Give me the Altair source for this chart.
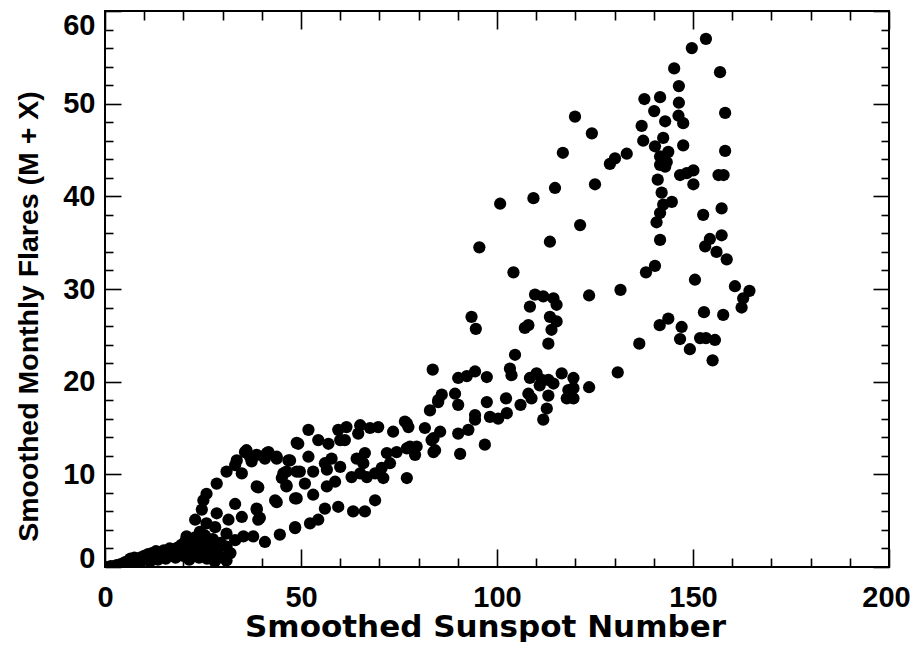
import altair as alt
import pandas as pd

sunspot = [
    0.5, 1.5, 2.5, 3.0, 3.5, 4.0, 4.5, 5.0, 5.5, 6.0, 6.5, 7.0, 7.5, 8.0, 8.5, 9.0, 9.5, 10.0,
    10.5, 11.0, 11.5, 12.0, 12.5, 13.0, 13.5, 14.0, 14.5, 15.0, 15.5, 16.0, 16.5, 17.0, 17.5,
    18.0, 18.5, 19.0, 19.5, 20.0, 20.5, 21.0, 21.5, 22.0, 22.5, 23.0, 23.5, 24.0, 24.5, 25.0,
    25.5, 26.0, 26.5, 27.0, 27.5, 28.0, 28.5, 29.0, 29.5, 30.0, 31.0, 32.0, 31.0, 33.2, 35.3,
    37.8, 40.8, 20.8, 24.2, 31.0, 28.1, 25.9, 23.0, 31.5, 34.9, 28.5, 24.7, 33.2, 25.1, 25.9,
    28.5, 31.0, 34.9, 33.6, 33.2, 35.7, 36.1, 37.4, 38.7, 40.8, 41.7, 43.8, 46.8, 46.3, 45.1,
    46.3, 48.9, 48.9, 37.0, 41.3, 43.8, 39.1, 38.7, 38.7, 39.5, 43.4, 43.8, 48.5, 48.9, 38.7,
    39.1, 44.6, 48.5, 48.5, 52.3, 54.4, 56.1, 59.5, 63.3, 66.3, 68.9, 77.0, 49.3, 51.9, 54.4,
    57.0, 51.9, 53.1, 49.7, 47.2, 45.5, 46.3, 51.0, 53.1, 57.8, 56.1, 56.6, 58.7, 56.6, 60.0,
    59.5, 60.0, 61.2, 61.6, 64.6, 65.1, 67.6, 69.7, 66.3, 64.2, 65.9, 62.9, 65.1, 66.8, 68.9,
    70.6, 71.0, 72.7, 71.9, 74.4, 73.5, 76.5, 77.4, 77.0, 77.0, 77.8, 79.1, 79.5, 81.6, 83.3,
    84.2, 83.8, 83.8, 85.5, 82.9, 85.0, 85.9, 83.6, 85.0, 89.3, 90.1, 90.1, 92.3, 94.4, 97.4,
    97.4, 102.3, 94.4, 94.4, 98.2, 100.3, 102.5, 106.0, 108.0, 108.8, 108.4, 110.1, 111.4,
    110.9, 113.1, 114.4, 116.5, 119.5, 119.5, 118.2, 123.5, 117.8, 119.5, 113.1, 112.7, 111.8,
    90.1, 92.7, 90.6, 96.9, 103.3, 103.7, 104.6, 93.5, 94.6, 108.0, 107.1, 113.1, 113.9, 115.2,
    113.5, 108.4, 109.7, 111.8, 114.4, 115.2, 123.5, 104.2, 95.5, 113.5, 121.2, 100.8, 109.3,
    114.8, 125.0, 116.8, 119.9, 124.2, 128.8, 130.1, 133.1, 131.5, 130.8, 136.3, 136.9, 137.3,
    137.6, 140.1, 141.6, 142.9, 142.4, 140.3, 143.7, 141.6, 143.3, 141.6, 142.9, 141.0, 142.0,
    144.6, 142.4, 141.6, 140.7, 141.6, 140.3, 138.0, 145.2, 146.4, 146.4, 146.3, 147.5, 147.5,
    146.7, 148.4, 150.1, 150.1, 149.7, 153.3, 156.9, 158.2, 158.2, 156.5, 157.8, 157.3, 152.6,
    157.3, 154.3, 153.1, 156.0, 158.6, 150.5, 160.7, 164.4, 162.8, 162.4, 152.8, 157.7, 143.7,
    141.5, 147.1, 146.7, 149.2, 151.8, 153.3, 155.6, 155.0,
]
flares = [
    0.0, 0.1, 0.1, 0.2, 0.0, 0.3, 0.2, 0.5, 0.3, 0.7, 0.9, 0.6, 1.0, 0.8, 0.4, 1.0, 0.7, 1.2,
    0.9, 1.4, 0.6, 1.5, 1.1, 1.7, 0.8, 1.6, 1.2, 1.8, 0.9, 1.5, 2.0, 1.3, 1.9,
    1.0, 2.1, 1.6, 2.4, 1.2, 2.8, 1.9, 0.8, 2.5, 1.5, 3.2, 2.0, 1.0, 2.6, 1.6,
    3.4, 0.9, 2.2, 1.3, 3.0, 0.6, 1.8, 1.2, 2.6, 1.0, 0.7, 1.5, 2.2, 2.9, 3.3,
    3.3, 2.7, 3.3, 3.8, 3.6, 4.3, 4.7, 5.1, 5.1, 5.4, 5.8, 6.2, 6.8, 7.2, 7.9,
    9.0, 10.3, 10.1, 11.5, 11.0, 12.4, 12.6, 11.4, 12.1, 11.7, 12.4, 11.9, 11.5, 10.3, 9.6,
    8.7, 10.3, 13.4, 11.9, 12.3, 11.7, 8.6, 8.7, 6.3, 5.3, 7.2, 7.0, 7.4, 7.4, 6.2,
    5.1, 3.5, 4.2, 4.3, 4.7, 5.1, 6.3, 6.5, 6.0, 6.0, 7.2, 9.6, 13.3, 14.8, 13.7,
    13.3, 11.9, 10.3, 10.3, 11.5, 10.1, 8.8, 9.0, 7.8, 11.7, 11.2, 10.5, 9.2, 8.7, 10.8,
    14.8, 13.7, 13.7, 15.1, 14.4, 15.3, 15.0, 15.1, 12.3, 11.7, 11.2, 9.7, 10.1, 9.7, 10.1,
    10.7, 9.6, 11.2, 12.3, 12.4, 14.6, 15.7, 15.1, 15.5, 12.8, 13.0, 12.1, 13.0, 15.0, 13.7,
    12.6, 13.9, 12.4, 14.6, 16.9, 18.0, 18.6, 21.3, 17.8, 18.7, 17.5, 20.4, 20.6, 21.1, 20.5,
    17.8, 18.2, 16.4, 15.9, 16.2, 16.0, 16.6, 17.5, 18.7, 18.2, 20.4, 20.9, 20.2,
    19.6, 20.2, 19.8, 20.9, 20.4, 19.3, 19.1, 19.4, 18.2, 18.2, 18.5, 17.1, 15.9,
    14.4, 14.8, 12.2, 13.2, 21.4, 20.7, 22.9, 27.0, 25.7, 26.1, 25.8, 24.1, 25.6, 26.5,
    27.0, 28.1, 29.4, 29.2, 29.0, 28.3, 29.3, 31.8, 34.5, 35.1, 36.9, 39.2, 39.8,
    40.9, 41.3, 44.7, 48.6, 46.8, 43.5, 44.1, 44.6, 29.9, 21.0, 24.1, 47.6, 46.0,
    50.5, 49.2, 50.7, 48.1, 46.3, 45.4, 44.8, 44.3, 43.7, 43.4, 43.2, 41.8, 40.4,
    39.4, 39.1, 38.2, 37.2, 35.3, 32.5, 31.8, 53.8, 51.9, 50.1, 48.7, 47.9, 45.5,
    42.3, 42.5, 42.8, 41.3, 56.0, 57.0, 53.4, 49.0, 44.9, 42.3, 42.3, 38.7, 38.0,
    35.8, 35.4, 34.6, 34.0, 33.2, 31.0, 30.3, 29.8, 29.0, 28.0, 27.5, 27.2, 26.8,
    26.1, 25.9, 24.6, 23.5, 24.7, 24.7, 24.5, 22.3,
]

x_label_values = [0, 50, 100, 150, 200]
y_label_values = [0, 10, 20, 30, 40, 50, 60]
x_tick_values = [0, 10, 20, 30, 40, 50, 60, 70, 80, 90, 100, 110, 120, 130, 140, 150,
                 160, 170, 180, 190, 200]
y_tick_values = [0, 2, 4, 6, 8, 10, 12, 14, 16, 18, 20, 22, 24, 26, 28, 30, 32, 34, 36,
                 38, 40, 42, 44, 46, 48, 50, 52, 54, 56, 58, 60]

df = pd.DataFrame({"sunspot": sunspot, "flares": flares})

W, H = 784, 556
FONT = "Liberation Sans"

x_scale = alt.Scale(domain=[0, 200], nice=False, zero=False)
y_scale = alt.Scale(domain=[0, 60], nice=False, zero=False)

x_tick_size = {"condition": {"test": "datum.value % 50 === 0", "value": 18}, "value": 9}
y_tick_size = {"condition": {"test": "datum.value % 10 === 0", "value": 16}, "value": 8}

base = alt.Chart(df)

points = base.mark_circle(size=150, color="black", opacity=1, clip=True).encode(
    x=alt.X(
        "sunspot:Q", scale=x_scale,
        axis=alt.Axis(
            values=x_label_values, ticks=False, tickSize=0, domain=False, grid=False,
            labelFont=FONT, labelFontSize=29, labelFontWeight="bold", labelColor="black",
            labelPadding=16, labelFlush=False,
            labelOffset={"condition": {"test": "datum.value === 200", "value": -3}, "value": 0},
            title="Smoothed Sunspot Number", titleFont="DejaVu Sans", titleFontSize=31,
            titleFontWeight="bold", titleColor="black", titleX=380, titleY=69,
            titleAlign="center", titleBaseline="alphabetic",
        ),
    ),
    y=alt.Y(
        "flares:Q", scale=y_scale,
        axis=alt.Axis(
            values=y_label_values, ticks=False, tickSize=0, domain=False, grid=False,
            labelFont=FONT, labelFontSize=29, labelFontWeight="bold", labelColor="black",
            labelPadding=10, labelFlush=False,
            labelBaseline={"condition": [
                {"test": "datum.value === 0", "value": "alphabetic"},
                {"test": "datum.value === 60", "value": "top"},
            ], "value": "middle"},
            title="Smoothed Monthly Flares (M + X)", titleFont=FONT, titleFontSize=28.5,
            titleFontWeight="bold", titleColor="black", titleAngle=270,
            titleX=-68, titleY=305, titleAlign="center", titleBaseline="alphabetic",
        ),
    ),
)

ticks_a = base.mark_point(opacity=0).encode(
    x=alt.X("sunspot:Q", scale=x_scale, title=None,
            axis=alt.Axis(orient="top", offset=-H, values=x_tick_values, labels=False,
                          domain=False, grid=False, ticks=True, tickSize=x_tick_size,
                          tickColor="black", tickWidth=1.6)),
    y=alt.Y("flares:Q", scale=y_scale, title=None,
            axis=alt.Axis(orient="right", offset=-W, values=y_tick_values, labels=False,
                          domain=False, grid=False, ticks=True, tickSize=y_tick_size,
                          tickColor="black", tickWidth=1.6)),
)

ticks_b = base.mark_point(opacity=0).encode(
    x=alt.X("sunspot:Q", scale=x_scale, title=None,
            axis=alt.Axis(orient="bottom", offset=-H, values=x_tick_values, labels=False,
                          domain=False, grid=False, ticks=True, tickSize=x_tick_size,
                          tickColor="black", tickWidth=1.6)),
    y=alt.Y("flares:Q", scale=y_scale, title=None,
            axis=alt.Axis(orient="left", offset=-W, values=y_tick_values, labels=False,
                          domain=False, grid=False, ticks=True, tickSize=y_tick_size,
                          tickColor="black", tickWidth=1.6)),
)

chart = alt.layer(points, ticks_a, ticks_b).resolve_axis(
    x="independent", y="independent"
).properties(
    width=W, height=H,
    autosize=alt.AutoSizeParams(type="none"),
    padding={"left": 97, "top": 3, "right": 21, "bottom": 75},
    background="white",
).configure_view(stroke="black", strokeWidth=2)

chart.save("out.html", embed_options={"renderer": "svg", "actions": False})
